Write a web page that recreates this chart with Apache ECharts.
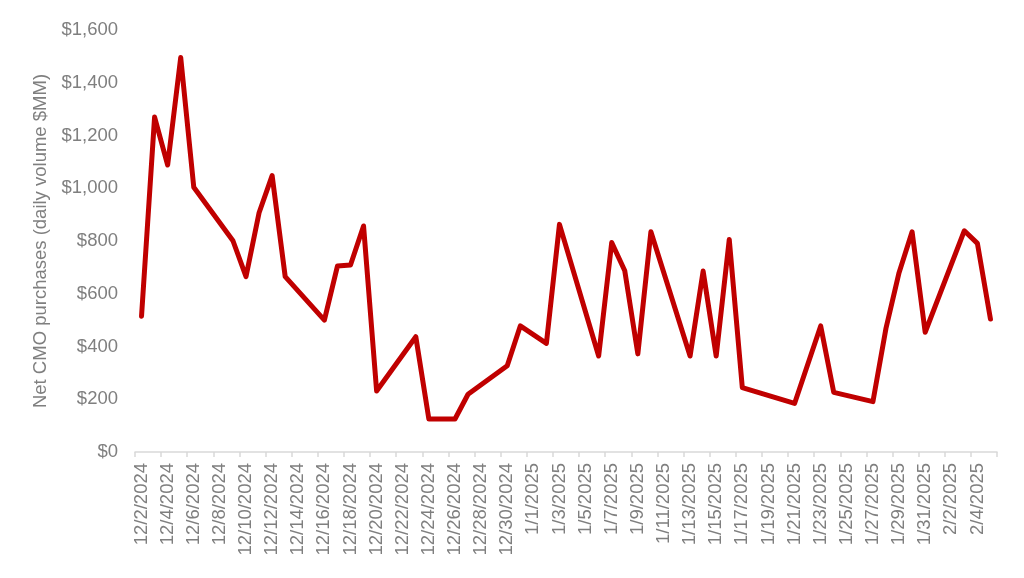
<!DOCTYPE html>
<html>
<head>
<meta charset="utf-8">
<script src="https://cdn.jsdelivr.net/npm/echarts@6/dist/echarts.min.js"></script>
<style>html,body{margin:0;padding:0;background:#fff}#c{width:1024px;height:578px}</style>
</head>
<body>
<div id="c"></div>
<script>
const categories = [
  "12/2/2024","12/3/2024","12/4/2024","12/5/2024","12/6/2024","12/7/2024","12/8/2024","12/9/2024","12/10/2024","12/11/2024",
  "12/12/2024","12/13/2024","12/14/2024","12/15/2024","12/16/2024","12/17/2024","12/18/2024","12/19/2024","12/20/2024","12/21/2024",
  "12/22/2024","12/23/2024","12/24/2024","12/25/2024","12/26/2024","12/27/2024","12/28/2024","12/29/2024","12/30/2024","12/31/2024",
  "1/1/2025","1/2/2025","1/3/2025","1/4/2025","1/5/2025","1/6/2025","1/7/2025","1/8/2025","1/9/2025","1/10/2025",
  "1/11/2025","1/12/2025","1/13/2025","1/14/2025","1/15/2025","1/16/2025","1/17/2025","1/18/2025","1/19/2025","1/20/2025",
  "1/21/2025","1/22/2025","1/23/2025","1/24/2025","1/25/2025","1/26/2025","1/27/2025","1/28/2025","1/29/2025","1/30/2025",
  "1/31/2025","2/1/2025","2/2/2025","2/3/2025","2/4/2025","2/5/2025"
];
const netCMOPurchases = [
  515, 1270, 1088, 1496, 1004, null, null, 801, 665, 907,
  1048, 665, null, null, 500, 705, 709, 857, 231, null,
  null, 437, 125, null, 125, 219, null, null, 327, 478,
  null, 412, 863, null, null, 364, 794, 687, 372, 835,
  null, null, 364, 686, 364, 806, 244, null, null, null,
  184, null, 478, 226, null, null, 191, 469, 680, 835,
  454, null, null, 839, 791, 504
];
const yAxisTitle = "Net CMO purchases (daily volume $MM)";

const chart = echarts.init(document.getElementById('c'));
const grey = '#7f7f7f';
const font = 'Liberation Sans, Arial, sans-serif';
chart.setOption({
  animation: false,
  grid: { left: 135, right: 27, top: 30, bottom: 126, containLabel: false, outerBoundsMode: 'none' },
  xAxis: {
    type: 'category',
    data: categories,
    boundaryGap: true,
    axisLine: { show: true, lineStyle: { color: '#d9d9d9', width: 1.5 } },
    axisTick: { show: true, interval: 1, length: 5, lineStyle: { color: '#d9d9d9', width: 1.5 } },
    axisLabel: { interval: 1, rotate: 90, margin: 11, color: grey, fontSize: 18.5, fontFamily: font },
    splitLine: { show: false }
  },
  yAxis: {
    type: 'value',
    min: 0, max: 1600, interval: 200,
    name: yAxisTitle,
    nameLocation: 'middle',
    nameGap: 82,
    nameRotate: 90,
    nameTextStyle: { color: grey, fontSize: 18.5, fontFamily: font },
    axisLine: { show: false },
    axisTick: { show: false },
    splitLine: { show: false },
    axisLabel: {
      margin: 17, color: grey, fontSize: 18.5, fontFamily: font,
      formatter: v => '$' + v.toLocaleString('en-US')
    }
  },
  series: [{
    type: 'line',
    data: netCMOPurchases,
    connectNulls: true,
    showSymbol: false,
    symbol: 'none',
    lineStyle: { color: '#c00000', width: 5, join: 'round', cap: 'round' }
  }]
});
</script>
</body>
</html>
